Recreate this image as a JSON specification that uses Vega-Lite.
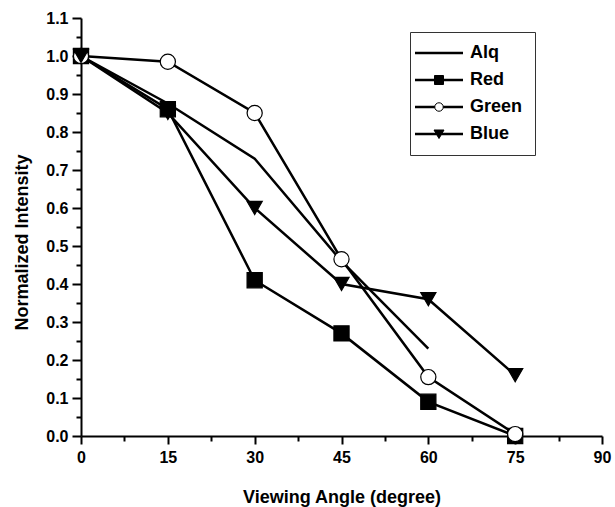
{
  "$schema": "https://vega.github.io/schema/vega-lite/v6.json",
  "width": 521,
  "height": 418,
  "autosize": "none",
  "padding": {"left": 81, "top": 18, "right": 13, "bottom": 71},
  "background": "white",
  "config": {
    "view": {"stroke": null},
    "font": "Liberation Sans",
    "axis": {
      "grid": false,
      "domainColor": "black",
      "domainWidth": 2,
      "tickColor": "black",
      "tickWidth": 2,
      "labelFont": "Liberation Sans",
      "labelFontWeight": "bold",
      "labelFontSize": 16,
      "labelColor": "black",
      "titleFont": "Liberation Sans",
      "titleFontWeight": "bold",
      "titleFontSize": 18,
      "titleColor": "black"
    }
  },
  "data": {
    "values": [
      {"angle": 0, "intensity": 1.0, "series": "Alq"},
      {"angle": 15, "intensity": 0.875, "series": "Alq"},
      {"angle": 30, "intensity": 0.73, "series": "Alq"},
      {"angle": 45, "intensity": 0.46, "series": "Alq"},
      {"angle": 60, "intensity": 0.23, "series": "Alq"},
      {"angle": 0, "intensity": 1.0, "series": "Red"},
      {"angle": 15, "intensity": 0.86, "series": "Red"},
      {"angle": 30, "intensity": 0.41, "series": "Red"},
      {"angle": 45, "intensity": 0.27, "series": "Red"},
      {"angle": 60, "intensity": 0.09, "series": "Red"},
      {"angle": 75, "intensity": 0.0, "series": "Red"},
      {"angle": 0, "intensity": 1.0, "series": "Green"},
      {"angle": 15, "intensity": 0.985, "series": "Green"},
      {"angle": 30, "intensity": 0.85, "series": "Green"},
      {"angle": 45, "intensity": 0.465, "series": "Green"},
      {"angle": 60, "intensity": 0.155, "series": "Green"},
      {"angle": 75, "intensity": 0.005, "series": "Green"},
      {"angle": 0, "intensity": 1.0, "series": "Blue"},
      {"angle": 15, "intensity": 0.85, "series": "Blue"},
      {"angle": 30, "intensity": 0.6, "series": "Blue"},
      {"angle": 45, "intensity": 0.4, "series": "Blue"},
      {"angle": 60, "intensity": 0.36, "series": "Blue"},
      {"angle": 75, "intensity": 0.16, "series": "Blue"}
    ]
  },
  "resolve": {
    "scale": {"shape": "independent", "fill": "independent"},
    "legend": {"shape": "independent", "fill": "independent"},
    "axis": {"x": "independent", "y": "independent"}
  },
  "layer": [
    {
      "mark": {"type": "line", "color": "black", "strokeWidth": 2.5},
      "encoding": {
        "x": {
          "field": "angle", "type": "quantitative",
          "scale": {"domain": [0, 90], "nice": false, "zero": false},
          "axis": {
            "orient": "bottom",
            "title": "Viewing Angle (degree)",
            "values": [0, 15, 30, 45, 60, 75, 90],
            "format": "d",
            "tickSize": 8,
            "labelPadding": 5,
            "titlePadding": 23,
            "labelFlush": false,
            "labelOverlap": false
          }
        },
        "y": {
          "field": "intensity", "type": "quantitative",
          "scale": {"domain": [0, 1.1], "nice": false, "zero": false},
          "axis": {
            "orient": "left",
            "title": "Normalized Intensity",
            "values": [0, 0.1, 0.2, 0.3, 0.4, 0.5, 0.6, 0.7, 0.8, 0.9, 1.0, 1.1],
            "format": ".1f",
            "tickSize": 9,
            "labelPadding": 4,
            "titlePadding": 14,
            "titleY": 224,
            "labelFlush": false,
            "labelOverlap": false
          }
        },
        "detail": {"field": "series"}
      }
    },
    {
      "transform": [{"filter": "datum.series !== 'Alq'"}],
      "mark": {"type": "point", "filled": false, "stroke": "black", "strokeWidth": 1.2, "size": 230, "opacity": 1},
      "encoding": {
        "x": {"field": "angle", "type": "quantitative", "axis": null},
        "y": {"field": "intensity", "type": "quantitative", "axis": null},
        "shape": {
          "field": "series", "type": "nominal",
          "scale": {"domain": ["Red", "Green", "Blue"], "range": ["square", "circle", "triangle-down"]},
          "legend": null
        },
        "fill": {
          "field": "series", "type": "nominal",
          "scale": {"domain": ["Red", "Green", "Blue"], "range": ["black", "white", "black"]},
          "legend": null
        }
      }
    },
    {
      "mark": {"type": "point", "filled": true, "color": "black", "opacity": 0},
      "encoding": {
        "x": {
          "field": "angle", "type": "quantitative",
          "axis": {
            "orient": "bottom", "title": null, "labels": false, "domain": false,
            "values": [7.5, 22.5, 37.5, 52.5, 67.5, 82.5], "tickSize": 5
          }
        },
        "y": {
          "field": "intensity", "type": "quantitative",
          "axis": {
            "orient": "left", "title": null, "labels": false, "domain": false,
            "values": [0.05, 0.15, 0.25, 0.35, 0.45, 0.55, 0.65, 0.75, 0.85, 0.95, 1.05], "tickSize": 5
          }
        },
        "shape": {
          "field": "series", "type": "nominal",
          "scale": {
            "domain": ["Alq", "Red", "Green", "Blue"],
            "range": [
              "M-3.2,-0.25H6.4V0.25H-3.2Z",
              "M-3.2,-0.25H6.4V0.25H-3.2Z",
              "M-3.2,-0.25H6.4V0.25H-3.2Z",
              "M-3.2,-0.25H6.4V0.25H-3.2Z"
            ]
          },
          "legend": {
            "orient": "none", "legendX": 329, "legendY": 14,
            "title": null,
            "symbolSize": 100, "symbolOpacity": 1,
            "symbolFillColor": "black", "symbolStrokeColor": "black", "symbolStrokeWidth": 0.5,
            "labelFont": "Liberation Sans", "labelFontWeight": "bold", "labelFontSize": 18, "labelColor": "black",
            "labelOffset": 30, "rowPadding": 9,
            "padding": 12, "strokeColor": "#333333", "fillColor": "white"
          }
        }
      }
    },
    {
      "mark": {"type": "point", "filled": true, "stroke": "black", "opacity": 0},
      "encoding": {
        "x": {"field": "angle", "type": "quantitative", "axis": null},
        "y": {"field": "intensity", "type": "quantitative", "axis": null},
        "shape": {
          "field": "series", "type": "nominal",
          "scale": {
            "domain": ["Alq", "Red", "Green", "Blue"],
            "range": [
              "M1.6,0L1.6,0",
              "M0.7,-0.9H2.5V0.9H0.7Z",
              "M2.45,0A0.85,0.85 0 1,1 0.75,0A0.85,0.85 0 1,1 2.45,0Z",
              "M0.6,-0.8H2.6L1.6,0.9Z"
            ]
          },
          "legend": {
            "orient": "none", "legendX": 329, "legendY": 14,
            "title": null,
            "symbolSize": 100, "symbolOpacity": 1,
            "symbolStrokeColor": "black", "symbolStrokeWidth": 1,
            "labelFont": "Liberation Sans", "labelFontWeight": "bold", "labelFontSize": 18, "labelOpacity": 0,
            "labelOffset": 30, "rowPadding": 9,
            "padding": 12,
            "encode": {
              "symbols": {
                "update": {
                  "stroke": {"value": "black"},
                  "strokeWidth": {"value": 1},
                  "strokeOpacity": {"value": 1},
                  "opacity": {"value": 1}
                }
              }
            }
          }
        },
        "fill": {
          "field": "series", "type": "nominal",
          "scale": {"domain": ["Alq", "Red", "Green", "Blue"], "range": ["black", "black", "white", "black"]},
          "legend": {
            "orient": "none", "legendX": 329, "legendY": 14,
            "title": null,
            "symbolSize": 100, "symbolOpacity": 1,
            "symbolStrokeColor": "black", "symbolStrokeWidth": 1,
            "labelFont": "Liberation Sans", "labelFontWeight": "bold", "labelFontSize": 18, "labelOpacity": 0,
            "labelOffset": 30, "rowPadding": 9,
            "padding": 12,
            "encode": {
              "symbols": {
                "update": {
                  "stroke": {"value": "black"},
                  "strokeWidth": {"value": 1},
                  "strokeOpacity": {"value": 1},
                  "opacity": {"value": 1}
                }
              }
            }
          }
        }
      }
    }
  ]
}
